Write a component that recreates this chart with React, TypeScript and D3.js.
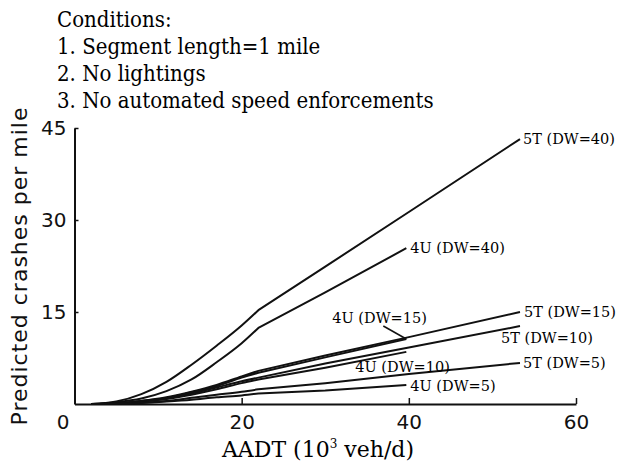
import React, { useEffect, useRef } from "react";
import * as d3 from "d3";

// AADT values (10^3 veh/d)
const aadt4U = [2, 5, 8, 11, 14, 17, 20, 22, 30, 39.7];
const aadt5T = [2, 5, 8, 11, 14, 17, 20, 22, 30, 40, 53.3];

// predicted crashes per mile
const t5dw40 = [0, 0.4, 1.6, 3.6, 6.4, 9.5, 12.8, 15.3, 22.4, 31.3, 43.2];
const u4dw40 = [0, 0.3, 0.9, 2.1, 4.0, 6.8, 9.9, 12.4, 18.2, 25.4];
const t5dw15 = [0, 0.1, 0.5, 1.1, 2.0, 3.1, 4.5, 5.4, 7.9, 10.9, 15.0];
const u4dw15 = [0, 0.1, 0.5, 1.0, 1.9, 2.9, 4.3, 5.1, 7.6, 10.6];
const t5dw10 = [0, 0.1, 0.4, 0.9, 1.7, 2.7, 3.7, 4.3, 6.6, 9.2, 12.7];
const u4dw10 = [0, 0.1, 0.4, 0.8, 1.5, 2.4, 3.4, 4.0, 5.9, 8.5];
const t5dw5 = [0, 0.05, 0.2, 0.5, 1.0, 1.5, 2.0, 2.4, 3.4, 4.9, 6.7];
const u4dw5 = [0, 0.05, 0.15, 0.4, 0.7, 1.1, 1.4, 1.7, 2.2, 3.1];

const xTicks = [0, 20, 40, 60];
const yTicks = [15, 30, 45];
const kinkAadt = 22;

const conditions = [
    "Conditions:",
    "1. Segment length=1 mile",
    "2. No lightings",
    "3. No automated speed enforcements",
];

interface Series {
    name: string;
    x: number[];
    y: number[];
}

const series: Series[] = [
    { name: "5T (DW=40)", x: aadt5T, y: t5dw40 },
    { name: "4U (DW=40)", x: aadt4U, y: u4dw40 },
    { name: "5T (DW=15)", x: aadt5T, y: t5dw15 },
    { name: "4U (DW=15)", x: aadt4U, y: u4dw15 },
    { name: "5T (DW=10)", x: aadt5T, y: t5dw10 },
    { name: "4U (DW=10)", x: aadt4U, y: u4dw10 },
    { name: "5T (DW=5)", x: aadt5T, y: t5dw5 },
    { name: "4U (DW=5)", x: aadt4U, y: u4dw5 },
];

// label placement relative to each line's end point (pixels)
const labelOffsets: Record<string, { dx: number; dy: number; leader?: boolean }> = {
    "5T (DW=40)": { dx: 3, dy: 5 },
    "4U (DW=40)": { dx: 4, dy: 5 },
    "5T (DW=15)": { dx: 4, dy: 5 },
    "5T (DW=10)": { dx: -19, dy: 17 },
    "5T (DW=5)": { dx: 3, dy: 5 },
    "4U (DW=15)": { dx: -74, dy: -16, leader: true },
    "4U (DW=10)": { dx: -51, dy: 20 },
    "4U (DW=5)": { dx: 4, dy: 6 },
};

const serifC = "'DejaVu Serif Condensed', 'DejaVu Serif', serif";
const serif = "'DejaVu Serif', serif";
const sans = "'DejaVu Sans', sans-serif";

const App: React.FC = () => {
    const svgRef = useRef<SVGSVGElement>(null);
    const width = 618;
    const height = 468;

    useEffect(() => {
        if (!svgRef.current) return;
        const svg = d3.select(svgRef.current);
        svg.selectAll("*").remove();

        const xScale = d3.scaleLinear().domain([0, 60]).range([74.5, 576]);
        const yScale = d3.scaleLinear().domain([0, 45]).range([404, 128]);

        // conditions block
        svg.append("g")
            .selectAll("text")
            .data(conditions)
            .join("text")
            .attr("x", 57)
            .attr("y", (_, i) => 27 + i * 27)
            .attr("font-family", serifC)
            .attr("font-size", 22)
            .attr("fill", "#000")
            .text((d) => d);

        // X axis
        const xAxis = svg
            .append("g")
            .attr("transform", `translate(0,${yScale(0)})`)
            .call(
                d3
                    .axisBottom(xScale)
                    .tickValues(xTicks)
                    .tickSizeInner(-6)
                    .tickSizeOuter(0)
                    .tickPadding(11)
                    .tickFormat(d3.format("d"))
            );
        xAxis.select(".domain").attr("stroke", "#111").attr("stroke-width", 2);
        xAxis.selectAll(".tick line").attr("stroke", "#111").attr("stroke-width", 1.5);
        xAxis
            .selectAll(".tick text")
            .attr("font-family", sans)
            .attr("font-size", 20)
            .attr("fill", "#111")
            .attr("dx", (d) => ((d as number) === 0 ? -12 : 0));

        // Y axis
        const yAxis = svg
            .append("g")
            .attr("transform", `translate(${xScale(0)},0)`)
            .call(
                d3
                    .axisLeft(yScale)
                    .tickValues(yTicks)
                    .tickSizeInner(-4)
                    .tickSizeOuter(0)
                    .tickPadding(8)
            );
        yAxis.select(".domain").attr("stroke", "#111").attr("stroke-width", 2);
        yAxis.selectAll(".tick line").attr("stroke", "#111").attr("stroke-width", 1.5);
        yAxis
            .selectAll(".tick text")
            .attr("font-family", sans)
            .attr("font-size", 20)
            .attr("fill", "#111");

        // axis titles
        svg.append("text")
            .attr("transform", `translate(27,266) rotate(-90)`)
            .attr("text-anchor", "middle")
            .attr("font-family", sans)
            .attr("font-size", 22)
            .attr("letter-spacing", 1)
            .attr("fill", "#111")
            .text("Predicted crashes per mile");

        const xt = svg
            .append("text")
            .attr("x", 318)
            .attr("y", 457)
            .attr("text-anchor", "middle")
            .attr("font-family", serif)
            .attr("font-size", 22)
            .attr("fill", "#000");
        xt.append("tspan").text("AADT (10");
        xt.append("tspan").attr("font-size", 12).attr("dy", -9).text("3");
        xt.append("tspan").attr("dy", 9).text(" veh/d)");

        // lines: smooth rise up to the kink, straight beyond it
        const smooth = d3
            .line<[number, number]>()
            .x((d) => xScale(d[0]))
            .y((d) => yScale(d[1]))
            .curve(d3.curveMonotoneX);

        const pathFor = (s: Series) => {
            const pts = s.x.map((v, i) => [v, s.y[i]] as [number, number]);
            const lower = pts.filter((p) => p[0] <= kinkAadt);
            const upper = pts.filter((p) => p[0] > kinkAadt);
            let d = smooth(lower) || "";
            upper.forEach((p) => {
                d += `L${xScale(p[0])},${yScale(p[1])}`;
            });
            return d;
        };

        svg.append("g")
            .selectAll("path")
            .data(series)
            .join("path")
            .attr("d", (s) => pathFor(s))
            .attr("fill", "none")
            .attr("stroke", "#111")
            .attr("stroke-width", 2)
            .attr("stroke-linejoin", "round");

        // line labels
        const lg = svg.append("g");
        series.forEach((s) => {
            const n = s.x.length - 1;
            const ex = xScale(s.x[n]);
            const ey = yScale(s.y[n]);
            const off = labelOffsets[s.name];
            lg.append("text")
                .attr("x", ex + off.dx)
                .attr("y", ey + off.dy)
                .attr("font-family", serif)
                .attr("font-size", 14.5)
                .attr("fill", "#000")
                .text(s.name);
            if (off.leader) {
                lg.append("line")
                    .attr("x1", ex - 23)
                    .attr("y1", ey - 13)
                    .attr("x2", ex)
                    .attr("y2", ey)
                    .attr("stroke", "#111")
                    .attr("stroke-width", 1.5);
            }
        });
    }, []);

    return (
        <svg
            ref={svgRef}
            width={width}
            height={height}
            style={{ position: "absolute", left: 0, top: 0, background: "#fff" }}
        ></svg>
    );
};

export default App;
